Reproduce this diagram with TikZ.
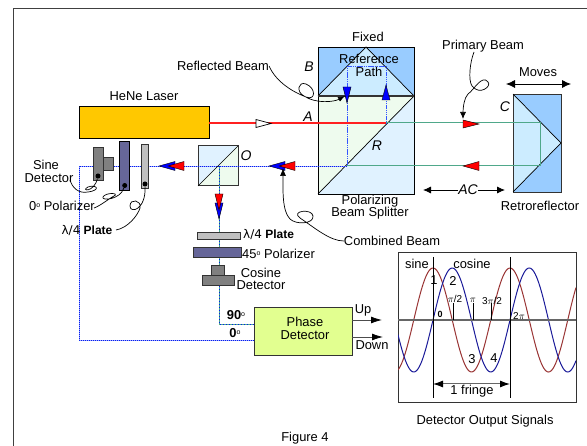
\documentclass[tikz,border=0pt]{standalone}
\usepackage{fontspec}
\setmainfont{Liberation Sans}
\newfontfamily\symfont{DejaVu Sans}
\usetikzlibrary{arrows.meta}
\definecolor{blk}{HTML}{99CCFF}
\definecolor{tri}{HTML}{CCECFF}
\definecolor{paleblue}{HTML}{E0F2FF}
\definecolor{palegreen}{HTML}{EEFBEE}
\definecolor{laser}{HTML}{FFC800}
\definecolor{pol}{HTML}{666699}
\definecolor{plate}{HTML}{C0C0C0}
\definecolor{det}{HTML}{808080}
\definecolor{phase}{HTML}{E2FF90}
\definecolor{teal2}{HTML}{4FA88A}
\definecolor{beamblue}{HTML}{0022EE}
\definecolor{refblue}{HTML}{3355FF}
\definecolor{laserred}{HTML}{FF2020}
\definecolor{sinered}{HTML}{993333}
\definecolor{cosblue}{HTML}{1A1A99}
\tikzset{
  lbl/.style={font=\fontsize{12.9}{13}\selectfont,inner sep=0pt,text=black},
  platelbl/.style={font=\fontsize{12}{13}\selectfont,inner sep=0pt,text=black},
  ital/.style={font=\fontsize{14}{14}\selectfont\itshape,inner sep=0pt},
  small/.style={font=\fontsize{10}{11}\selectfont,inner sep=0pt},
  boxy/.style={draw=#1,line width=1pt,inner sep=0pt,outer sep=0pt,anchor=north west},
  dotbeam/.style={draw=beamblue,line width=.8pt,dash pattern=on 1.2pt off 0.8pt},
  dotunder/.style={draw=#1,line width=.8pt},
  greenbeam/.style={draw=teal2,line width=1pt},
  leader/.style={draw=black,line width=.7pt},
  tipred/.style={fill=red,draw=black,line width=.4pt},
  tipblue/.style={fill=blue,draw=black,line width=.4pt},
  arrowline/.style={draw=black,line width=.8pt,-{Latex[length=8pt,width=7pt]}},
  dblarrow/.style={draw=black,line width=.8pt,{Latex[length=9pt,width=8pt]}-{Latex[length=9pt,width=8pt]}},
  dotblack/.style={circle,fill=black,inner sep=0pt,minimum size=5pt},
}
\begin{document}
\begin{tikzpicture}[x=1pt,y=-1pt]
\useasboundingbox (0,0) rectangle (587,446);
\fill[white] (0,0) rectangle (587,446);
% frame
\coordinate (fa) at (13.5,446); \coordinate (fb) at (13.5,8.5); \coordinate (fc) at (587,8.5);
\draw[draw=black!75,line width=1pt] (fa) -- (fb) -- (fc);

% beam splitter
\fill[blk] (318,47) rectangle (414,96);
\fill[tri] (318,96) -- (366,47) -- (414,96) -- cycle;
\fill[palegreen] (318,96) -- (414,96) -- (318,194) -- cycle;
\fill[paleblue] (414,96) -- (414,194) -- (318,194) -- cycle;
\draw[black,line width=.7pt] (318,47) rectangle (414,194);
\draw[black,line width=.7pt] (318,96) -- (366,47) -- (414,96);
\draw[black,line width=.7pt] (318,194) -- (414,96);
\draw[black!80,line width=1.6pt] (318,96) -- (414,96);

% retroreflector
\fill[blk] (513,94) rectangle (561,192);
\fill[tri] (513,94) -- (561,143) -- (513,192) -- cycle;
\draw[black!80,line width=.8pt] (513,94) rectangle (561,192);
\draw[black,line width=.7pt] (513,94) -- (561,143) -- (513,192);

% cube O
\fill[paleblue] (198,146) -- (238,146) -- (198,186) -- cycle;
\fill[palegreen] (238,146) -- (238,186) -- (198,186) -- cycle;
\node[boxy=black!80,minimum width=40pt,minimum height=40pt] (cube) at (198,146) {};
\coordinate (cubeSW) at (198,186); \coordinate (cubeNE) at (238,146);

% beam points
\coordinate (p1) at (386,123);
\coordinate (p2) at (540,123);
\coordinate (p3) at (540,166);
\coordinate (p4) at (347,166);
\coordinate (p5) at (79,166);
\coordinate (p6) at (79,340);
\coordinate (c1) at (219,166);
\coordinate (c2) at (219,324);
\coordinate (r1) at (347,66);
\coordinate (r2) at (386,66);

% laser and phase detector
\node[boxy=black,fill=laser,minimum width=130pt,minimum height=32pt] (laserbox) at (79,107) {};
\node[boxy=black!80,fill=phase,minimum width=98pt,minimum height=48pt] (phasebox) at (254,308) {};

% beams
\draw[dotunder=blue!35] (p4) -- (p5) -- (p6) -- (p6 -| phasebox.west);
\draw[dotbeam] (p4) -- (p5) -- (p6) -- (p6 -| phasebox.west);
\draw[dotunder=teal2] (c1) -- (c2) -- (c2 -| phasebox.west);
\draw[dotbeam,dash pattern=on 1pt off 2pt] (c1) -- (c2) -- (c2 -| phasebox.west);
\draw[draw=refblue,line width=.9pt,dash pattern=on 1.5pt off .7pt] (p4) -- (r1) -- (r2) -- (p1);
\draw[greenbeam] (p1) -- (p2) -- (p3) -- (p4);
\draw[draw=laserred,line width=1.2pt] (laserbox.east |- p1) -- (p1);
\draw[black,line width=.7pt] (cubeSW) -- (cubeNE);

% sine side optics
\node[boxy=black!80,fill=det,minimum width=10pt,minimum height=33pt] (sinedet) at (93,148) {};
\node[boxy=black!80,fill=det,minimum width=10pt,minimum height=13pt] (sinehead) at (103,158) {};
\node[boxy=black,fill=pol,minimum width=9.5pt,minimum height=49pt] (pol0) at (119.5,141.5) {};
\node[boxy=black!80,fill=plate,minimum width=7pt,minimum height=44pt] (plate0) at (141.5,144.5) {};
\node[dotblack] (d1) at (98,176) {};
\node[dotblack] (d2) at (124.7,185.5) {};
\node[dotblack] (d3) at (145,184) {};

% cosine side optics
\node[boxy=black!80,fill=plate,minimum width=43pt,minimum height=7pt] (plate45) at (197,233) {};
\node[boxy=black!80,fill=pol,minimum width=48pt,minimum height=10pt] (pol45) at (193,248) {};
\node[boxy=black!80,fill=det,minimum width=13pt,minimum height=10pt] (cosdet) at (211.5,266) {};
\node[boxy=black!80,fill=det,minimum width=32pt,minimum height=10pt] (cosbase) at (202,276) {};

% arrowheads on beams
\draw[black,fill=white,line width=.7pt] (256,119.5) -- (271,123.5) -- (256,127.5) -- cycle;
\draw[tipred] (463,120) -- (479,124) -- (463,128) -- cycle;
\draw[tipred] (479,161.5) -- (463,166) -- (479,170.5) -- cycle;
\draw[tipblue] (285,161.5) -- (269,166) -- (285,170.5) -- cycle;
\draw[tipred] (295,161.5) -- (279,166) -- (295,170.5) -- cycle;
\draw[tipblue] (175,161.5) -- (159,166) -- (175,170.5) -- cycle;
\draw[tipred] (184,161.5) -- (168,166) -- (184,170.5) -- cycle;
\draw[tipblue] (215,203) -- (219,219) -- (223,203) -- cycle;
\draw[tipred] (215,194) -- (219,210) -- (223,194) -- cycle;
\draw[tipblue] (343,87) -- (347,103) -- (351,87) -- cycle;
\draw[tipblue] (382,100) -- (386,85) -- (390,100) -- cycle;

% labels
\node[lbl,anchor=center] (hene) at (144,96) {HeNe Laser};
\node[lbl] (refl) at (223,66) {Reflected Beam};
\node[lbl] (fixed) at (368,37) {Fixed};
\node[lbl] (ref1) at (369,59) {Reference};
\node[lbl] (ref2) at (369,72) {Path};
\node[lbl] (prim) at (483,46) {Primary Beam};
\node[lbl] (moves) at (538,72) {Moves};
\node[lbl] (bs1) at (370,201.5) {Polarizing};
\node[lbl] (bs2) at (370,213.5) {Beam Splitter};
\node[lbl] (retro) at (540,206) {Retroreflector};
\node[lbl] (comb) at (392,241) {Combined Beam};
\node[lbl] (sine) at (46,165) {Sine};
\node[lbl] (detS) at (49,178) {Detector};
\node[lbl] (pz0) at (62,206) {0\raisebox{3pt}{\fontsize{7}{7}\selectfont o} Polarizer};
\node[platelbl] (lam0) at (87,230) {{\symfont λ/4} \textbf{Plate}};
\node[platelbl,anchor=west] (lam45) at (243,235) {{\symfont λ/4} \textbf{Plate}};
\node[lbl,anchor=west] (pz45) at (242,254) {45\raisebox{3pt}{\fontsize{7}{7}\selectfont o} Polarizer};
\node[lbl] (cos1) at (261,273) {Cosine};
\node[lbl] (cos2) at (261,285) {Detector};
\node[lbl] (ph1) at (305,322) {Phase};
\node[lbl] (ph2) at (305,335) {Detector};
\node[lbl] (deg90) at (236,315) {\textbf{90}\raisebox{3pt}{\fontsize{7}{7}\selectfont o}};
\node[lbl] (deg0) at (235,333) {\textbf{0}\raisebox{3pt}{\fontsize{7}{7}\selectfont o}};
\node[lbl] (up) at (363,310) {Up};
\node[lbl] (down) at (372,345) {Down};
\node[lbl] (fig) at (305,438) {Figure 4};
\node[lbl] (dos) at (485,421) {Detector Output Signals};
\node[ital] (lA) at (308,117) {A};
\node[ital] (lB) at (309,67) {B};
\node[ital] (lC) at (505,107) {C};
\node[ital] (lO) at (246,156) {O};
\node[ital] (lR) at (377,146) {R};
\node[ital,fill=none] (lAC) at (468,190) {AC};

% Moves / AC arrows
\coordinate (m1) at (506,84); \coordinate (m2) at (571,84);
\draw[dblarrow] (m1) -- (m2);
\coordinate (ac1) at (423,190); \coordinate (ac2) at (505,190);
\draw[arrowline] (lAC.west) -- (ac1);
\draw[arrowline] (lAC.east) -- (ac2);

% phase outputs
\coordinate (upEnd) at (382,320); \coordinate (downEnd) at (383,337);
\draw[arrowline,draw=black!70,-{Latex[length=11pt,width=7pt,black]}] (phasebox.east |- upEnd) -- (upEnd);
\draw[arrowline,draw=black!70,-{Latex[length=11pt,width=7pt,black]}] (phasebox.east |- downEnd) -- (downEnd);

% looped leaders
\coordinate (rtip) at (345,96);
\draw[leader,-{Latex[length=7pt,width=5pt]}] (refl.east) .. controls (276,82) and (293,92) .. (306,97)
  .. controls (316,101) and (316,88) .. (306,84)
  .. controls (298,81) and (296,92) .. (304,96)
  .. controls (316,104) and (334,102) .. (rtip);
\coordinate (ptip) at (463,119);
\coordinate (pstart) at (474,52);
\draw[leader,-{Latex[length=7pt,width=6pt]}] (pstart) .. controls (470,62) and (468,80) .. (472,86)
  .. controls (480,96) and (492,86) .. (488,82)
  .. controls (482,74) and (474,90) .. (468,94)
  .. controls (464,98) and (463,108) .. (ptip);
\coordinate (ctip) at (283,168);
\draw[leader,-{Latex[length=8pt,width=6pt]}] (comb.west) .. controls (330,241) and (315,228) .. (300,218)
  .. controls (290,211) and (312,208) .. (313,216)
  .. controls (314,224) and (296,225) .. (290,219)
  .. controls (282,211) and (283,190) .. (ctip);
\coordinate (sl) at (70,180);
\draw[leader] (sl) .. controls (72,187) and (78,194) .. (88,192)
  .. controls (102,190) and (96,184) .. (88,187)
  .. controls (80,191) and (94,193) .. (d1);
\coordinate (pl) at (94,208);
\draw[leader] (pl) .. controls (100,206) and (110,198) .. (114,196)
  .. controls (120,193) and (106,192) .. (103,197)
  .. controls (101,201) and (120,200) .. (d2);
\coordinate (ll) at (116,230);
\draw[leader] (ll) .. controls (128,228) and (138,215) .. (140,208)
  .. controls (142,200) and (130,198) .. (130,206)
  .. controls (130,214) and (146,210) .. (d3);

% graph
\node[boxy=black!80,fill=white,minimum width=178pt,minimum height=150pt] (graph) at (398,253) {};
\begin{scope}
\clip (graph.north west) rectangle (graph.south east);
\draw[sinered,line width=1pt] plot[domain=398:576,samples=150,smooth] (\x,{320-52*cos(4.6753*(\x-433))});
\draw[cosblue,line width=1pt] plot[domain=398:576,samples=150,smooth] (\x,{320-52*sin(4.6753*(\x-433))});
\end{scope}
\coordinate (axL) at (398,320); \coordinate (axR) at (576,320);
\draw[black!60,line width=1.2pt] (axL) -- (axR);
\coordinate (v1t) at (433,257); \coordinate (v1b) at (433,398);
\coordinate (v2t) at (510,257); \coordinate (v2b) at (510,398);
\draw[black,line width=.8pt] (v1t) -- (v1b);
\draw[black,line width=.8pt] (v2t) -- (v2b);
\coordinate (t1a) at (453,320); \coordinate (t1b) at (453,303);
\coordinate (t2a) at (473,320); \coordinate (t2b) at (473,303);
\coordinate (t3a) at (491,320); \coordinate (t3b) at (491,303);
\draw[black,line width=.7pt] (t1a) -- (t1b) (t2a) -- (t2b) (t3a) -- (t3b);
\coordinate (fr1) at (433,384); \coordinate (fr2) at (510,384);
\draw[draw=black!60,line width=1pt,{Latex[length=10pt,width=7pt,black]}-{Latex[length=10pt,width=7pt,black]}] (fr1) -- (fr2);
\node[lbl] (gs) at (417,264) {sine};
\node[lbl] (gc) at (472,264) {cosine};
\node[lbl] (n1) at (434,280) {1};
\node[lbl] (n2) at (453,281) {2};
\node[lbl] (n3) at (472,359) {3};
\node[lbl] (n4) at (494,358) {4};
\node[lbl] (fringe) at (472,391) {1 fringe};
\node[small,font=\fontsize{9}{10}\bfseries\selectfont] (z0) at (440,314) {0};
\node[small,font=\fontsize{10}{10}\selectfont] (pi1) at (455,299) {$\pi$/2};
\node[small,font=\fontsize{10}{10}\selectfont] (pi2) at (473,300) {$\pi$};
\node[small,font=\fontsize{10}{10}\selectfont] (pi3) at (492,301) {3$\pi$/2};
\node[small,font=\fontsize{10}{10}\selectfont] (pi4) at (519,316) {2$\pi$};
\end{tikzpicture}
\end{document}
